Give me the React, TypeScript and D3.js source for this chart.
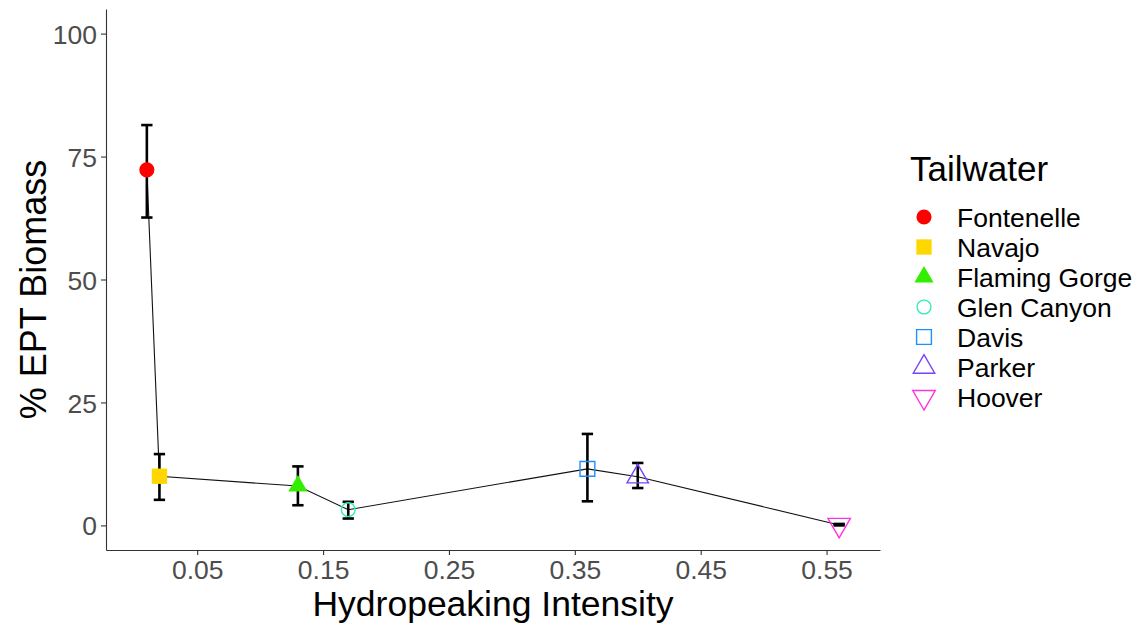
import { useEffect, useRef } from "react";
import * as d3 from "d3";

// data
const TAILWATERS = ["Fontenelle", "Navajo", "Flaming Gorge", "Glen Canyon", "Davis", "Parker", "Hoover"];
const INTENSITY = [0.01, 0.02, 0.13, 0.17, 0.36, 0.4, 0.56];
const EPT = [72.3, 10.0, 8.0, 3.2, 11.5, 9.9, 0.1];
const EPT_LOW = [62.6, 5.2, 4.1, 1.4, 4.9, 7.6, 0.0];
const EPT_HIGH = [81.4, 14.5, 12.0, 4.8, 18.6, 12.7, 0.3];
const X_TICKS = [0.05, 0.15, 0.25, 0.35, 0.45, 0.55];
const Y_TICKS = [0, 25, 50, 75, 100];

const COLORS = ["#FF0000", "#FFD700", "#33EE00", "#33EEBB", "#1E90FF", "#7744FF", "#FF33DD"];
// [symbol type, filled, area, rotate]
const SHAPES: [d3.SymbolType, boolean, number, number][] = [
  [d3.symbolCircle, true, 180, 0],
  [d3.symbolSquare, true, 235, 0],
  [d3.symbolTriangle, true, 160, 0],
  [d3.symbolCircle, false, 150, 0],
  [d3.symbolSquare, false, 220, 0],
  [d3.symbolTriangle, false, 200, 0],
  [d3.symbolTriangle, false, 220, 180],
];

const FONT = "'Liberation Sans', Arial, sans-serif";

export default function App() {
  const ref = useRef<SVGSVGElement>(null);

  useEffect(() => {
    if (!ref.current) return;
    const svg = d3.select(ref.current);
    svg.selectAll("*").remove();

    const W = 1146;
    const H = 628;
    const m = { top: 9, right: 266, bottom: 78, left: 106 };
    const w = W - m.left - m.right;
    const h = H - m.top - m.bottom;

    const capHalf = 0.0045;
    const xMin = d3.min(INTENSITY)! - capHalf;
    const xMax = d3.max(INTENSITY)! + capHalf;
    const pad = (xMax - xMin) * 0.05;
    const x = d3.scaleLinear().domain([xMin - pad, xMax + pad]).range([0, w]);
    const y = d3.scaleLinear().domain([-5, 105]).range([h, 0]);

    const g = svg.append("g").attr("transform", `translate(${m.left},${m.top})`);

    const styleAxis = (a: d3.Selection<SVGGElement, unknown, null, undefined>) => {
      a.select(".domain").attr("stroke", "#333333").attr("stroke-width", 1.1);
      a.selectAll(".tick line").attr("stroke", "#333333").attr("stroke-width", 1.1);
      a.selectAll("text")
        .attr("font-size", 26.5)
        .attr("font-family", FONT)
        .attr("fill", "#4D4D4D");
    };

    g.append("g")
      .attr("transform", `translate(0,${h})`)
      .call(d3.axisBottom(x).tickValues(X_TICKS).tickFormat(d3.format(".2f")).tickSize(5).tickSizeOuter(0).tickPadding(5))
      .call(styleAxis);
    g.append("g")
      .call(d3.axisLeft(y).tickValues(Y_TICKS).tickSize(5).tickSizeOuter(0).tickPadding(4))
      .call(styleAxis)
      .call((a) => a.selectAll("text").attr("dy", "0.36em"));

    // axis titles
    g.append("text")
      .attr("x", w / 2)
      .attr("y", h + 66)
      .attr("text-anchor", "middle")
      .attr("font-size", 35.5)
      .attr("font-family", FONT)
      .attr("fill", "#000")
      .text("Hydropeaking Intensity");
    g.append("text")
      .attr("transform", "rotate(-90)")
      .attr("x", -h / 2 - 10)
      .attr("y", -60)
      .attr("text-anchor", "middle")
      .attr("font-size", 36)
      .attr("font-family", FONT)
      .attr("fill", "#000")
      .text("% EPT Biomass");

    // connecting line
    const idx = d3.range(INTENSITY.length).sort((a, b) => INTENSITY[a] - INTENSITY[b]);
    const line = d3
      .line<number>()
      .x((i) => x(INTENSITY[i]))
      .y((i) => y(EPT[i]));
    g.append("path")
      .datum(idx)
      .attr("fill", "none")
      .attr("stroke", "#111")
      .attr("stroke-width", 1.1)
      .attr("d", line);

    // error bars
    idx.forEach((i) => {
      const eb = g.append("g").attr("stroke", "#000").attr("stroke-width", 2.6);
      eb.append("line")
        .attr("x1", x(INTENSITY[i]))
        .attr("x2", x(INTENSITY[i]))
        .attr("y1", y(EPT_LOW[i]))
        .attr("y2", y(EPT_HIGH[i]));
      [EPT_LOW[i], EPT_HIGH[i]].forEach((v) => {
        eb.append("line")
          .attr("x1", x(INTENSITY[i] - capHalf))
          .attr("x2", x(INTENSITY[i] + capHalf))
          .attr("y1", y(v))
          .attr("y2", y(v));
      });
    });

    const drawShape = (
      sel: d3.Selection<SVGGElement, unknown, null, undefined>,
      i: number,
      cx: number,
      cy: number
    ) => {
      const [type, filled, size, rot] = SHAPES[i];
      sel
        .append("path")
        .attr("d", d3.symbol().type(type).size(size)())
        .attr("transform", `translate(${cx},${cy}) rotate(${rot})`)
        .attr("fill", filled ? COLORS[i] : "none")
        .attr("stroke", filled ? "none" : COLORS[i])
        .attr("stroke-width", 1.4);
    };

    // points
    const pts = g.append("g");
    TAILWATERS.forEach((_, i) => drawShape(pts, i, x(INTENSITY[i]), y(EPT[i])));

    // legend
    const leg = svg.append("g").attr("transform", `translate(910, 0)`);
    leg
      .append("text")
      .attr("x", 0)
      .attr("y", 181)
      .attr("font-size", 35)
      .attr("font-family", FONT)
      .attr("fill", "#000")
      .text("Tailwater");
    TAILWATERS.forEach((name, i) => {
      const cy = 217 + i * 30;
      drawShape(leg, i, 14, cy);
      leg
        .append("text")
        .attr("x", 47)
        .attr("y", cy)
        .attr("dy", "0.36em")
        .attr("font-size", 26.5)
        .attr("font-family", FONT)
        .attr("fill", "#000")
        .text(name);
    });
  }, []);

  return (
    <svg
      ref={ref}
      width={1146}
      height={628}
      style={{ position: "absolute", left: 0, top: 0, background: "#fff" }}
    />
  );
}
